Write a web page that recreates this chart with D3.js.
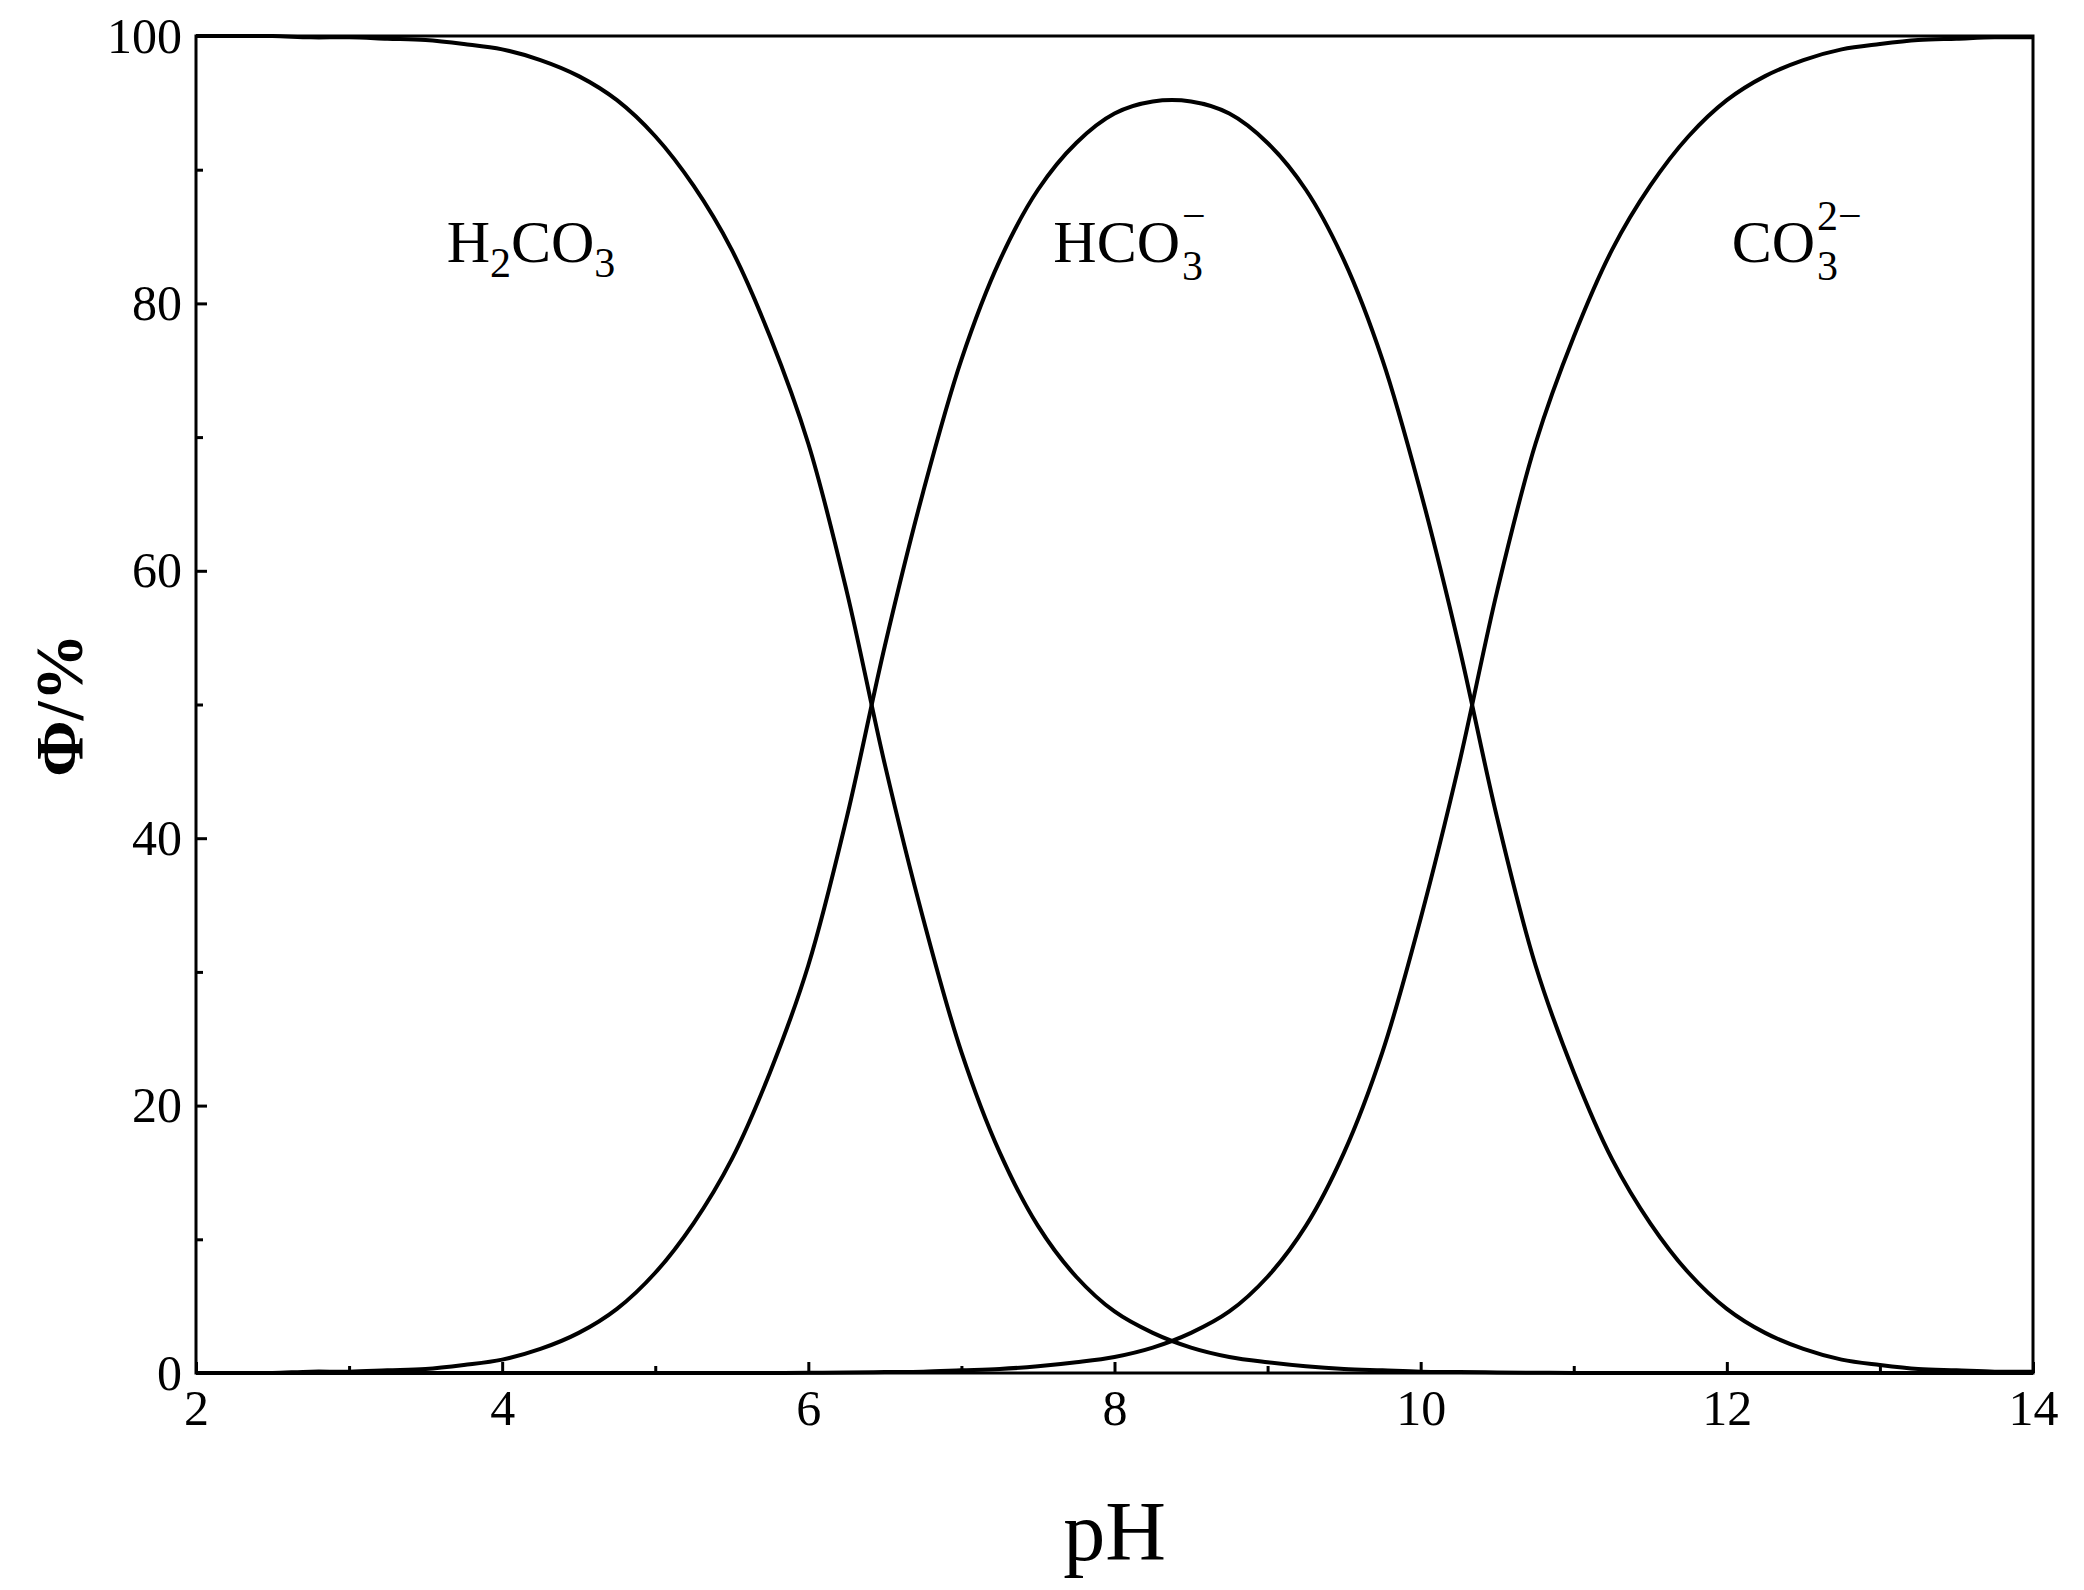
<!DOCTYPE html>
<html><head><meta charset="utf-8">
<script src="https://cdn.jsdelivr.net/npm/d3@7"></script>
<style>body{margin:0;background:#fff}text{font-family:"Liberation Serif","DejaVu Serif",serif}</style>
</head><body><svg id="c" width="2084" height="1590"></svg>
<script>
const pH = [2,2.25,2.5,2.75,3,3.25,3.5,3.75,4,4.25,4.5,4.75,5,5.25,5.5,5.75,6,6.25,6.5,6.75,7,7.25,7.5,7.75,8,8.25,8.5,8.75,9,9.25,9.5,9.75,10,10.25,10.5,10.75,11,11.25,11.5,11.75,12,12.25,12.5,12.75,13,13.25,13.5,13.75,14];
const h2co3 = [100,100,100,99.9,99.9,99.8,99.7,99.4,99.0,98.2,97.0,95.2,92.5,88.8,84.0,77.5,69.5,58.5,45.5,34.0,24.0,16.5,11.0,7.2,4.6,3.0,1.9,1.2,0.8,0.5,0.3,0.2,0.1,0.07,0.04,0.02,0,0,0,0,0,0,0,0,0,0,0,0,0];
const hco3 = [0,0,0,0.1,0.1,0.2,0.3,0.6,1.0,1.8,3.0,4.8,7.5,11.2,16,22.5,30.5,41.5,54.4,65.9,75.8,83.2,88.5,92,94.2,95.1,95.1,94.2,92,88.5,83.2,75.8,65.9,54.4,41.5,30.5,22.5,16,11.2,7.5,4.8,3,1.8,1,0.6,0.3,0.2,0.1,0.1];
const co3 = [0,0,0,0,0,0,0,0,0,0,0,0,0,0,0,0,0.02,0.04,0.07,0.1,0.2,0.3,0.5,0.8,1.2,1.9,3.0,4.6,7.2,11,16.5,24,34,45.5,58.5,69.5,77.5,84,88.8,92.5,95.2,97,98.2,99,99.4,99.7,99.8,99.9,99.9];
const xTicks = [2,4,6,8,10,12,14];
const yTicks = [0,20,40,60,80,100];

const svg = d3.select("#c");
const L=196,R=2033,T=36,B=1373;
const x=d3.scaleLinear().domain([2,14]).range([L,R]);
const y=d3.scaleLinear().domain([0,100]).range([B,T]);
svg.append("g").attr("transform",`translate(0,${B})`).call(d3.axisBottom(x).tickValues(xTicks).tickSize(-11).tickPadding(16).tickFormat(d3.format("d")));
svg.append("g").attr("transform",`translate(0,${B})`).call(d3.axisBottom(x).tickValues([3,5,7,9,11,13]).tickSize(-7).tickFormat(""));
svg.append("g").attr("transform",`translate(${L},0)`).call(d3.axisLeft(y).tickValues(yTicks).tickSize(-11).tickPadding(14));
svg.append("g").attr("transform",`translate(${L},0)`).call(d3.axisLeft(y).tickValues([10,30,50,70,90]).tickSize(-7).tickFormat(""));
svg.selectAll(".domain").remove();
svg.selectAll(".tick line").attr("stroke","#000").attr("stroke-width",3);
svg.selectAll(".tick text").attr("font-size",50).attr("fill","#000");
svg.append("rect").attr("x",L).attr("y",T).attr("width",R-L).attr("height",B-T).attr("fill","none").attr("stroke","#000").attr("stroke-width",3);
const line=d3.line().x((d,i)=>x(pH[i])).y(d=>y(d)).curve(d3.curveCatmullRom.alpha(0.5));
[h2co3,hco3,co3].forEach(s=>svg.append("path").attr("d",line(s)).attr("fill","none").attr("stroke","#000").attr("stroke-width",4));
svg.append("text").attr("x",(L+R)/2).attr("y",1560).attr("text-anchor","middle").attr("font-size",84).text("pH");
svg.append("text").attr("transform","translate(82,705) rotate(-90)").attr("text-anchor","middle").attr("font-size",68).attr("font-weight","bold").text("Φ/%");
function lab(cx,parts){
  const t=svg.append("text").attr("x",cx).attr("y",262).attr("font-size",60).attr("text-anchor","middle");
  parts.forEach(p=>{const ts=t.append("tspan").text(p[0]);
    if(p[1]==="sub") ts.attr("font-size",42).attr("dy",15);
    else if(p[1]==="back") ts.attr("dy",-15);
  });
}
lab(531,[["H"],["2","sub"],["C","back"],["O"],["3","sub"]]);
function stacked(cx,base,sup){
  const g=svg.append("g");
  g.append("text").attr("x",cx).attr("y",262).attr("font-size",60).attr("text-anchor","end").text(base);
  g.append("text").attr("x",cx+2).attr("y",280).attr("font-size",42).text("3");
  g.append("text").attr("x",cx+2).attr("y",230).attr("font-size",42).text(sup);
}
stacked(1180,"HCO","−");
stacked(1815,"CO","2−");
</script></body></html>
